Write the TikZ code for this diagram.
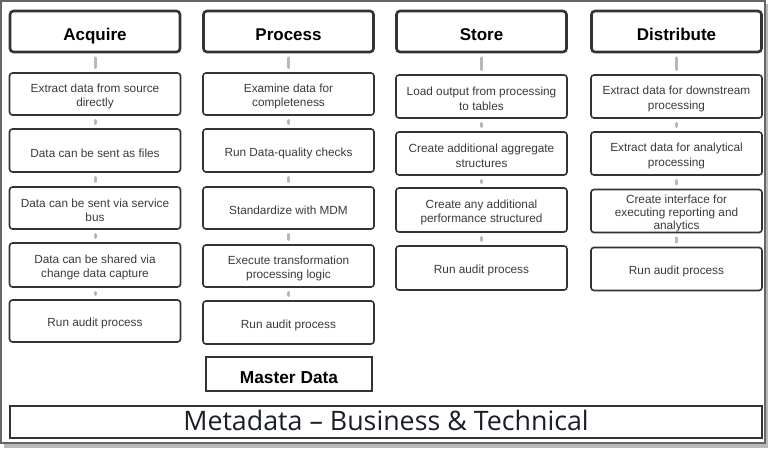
\documentclass[tikz,border=0pt]{standalone}
\usepackage{fontspec}
\setmainfont{Liberation Sans}
\newfontfamily\opensans{Open Sans}
\definecolor{boxline}{HTML}{333333}
\definecolor{boxtext}{HTML}{3A3A3A}
\definecolor{conncol}{HTML}{B8B8B8}
\definecolor{metatext}{HTML}{1A1E28}
\newcommand\stepnode[5][14.5]{%
  \node[stepbox,minimum height=#4] (#2) at (#3) {};
  \node[steptext,font=\fontsize{11.8}{#1}\selectfont] (#2t) at ([yshift=-2.5pt]#2.center) {#5};}
\begin{document}
\begin{tikzpicture}[x=1pt,y=-1pt,
  header/.style={draw=boxline,line width=2.6pt,rounded corners=3.5pt,minimum width=170pt,minimum height=41pt,inner sep=0pt,text height=22.5pt,text depth=4pt,font=\fontsize{17}{20}\selectfont\bfseries,text=black},
  stepbox/.style={draw=boxline,line width=1.6pt,rounded corners=3pt,minimum width=171pt,inner sep=0pt},
  steptext/.style={inner sep=0pt,align=center,text=boxtext},
  plainbox/.style={draw=boxline,line width=1.8pt,inner sep=0pt},
  conn/.style={draw=conncol,line width=3pt,line cap=round,shorten >=4.5pt,shorten <=4.5pt}
]
\useasboundingbox (0,0) rectangle (768,448);
% outer frame with shadow
\fill[gray!55] (4,443) rectangle (768,448);
\fill[gray!55] (765.5,4) rectangle (768,448);
\draw[gray!80!black,line width=1.4pt] (1,1) rectangle (765,443);

% Acquire
\node[header] (ah) at (95,31.5) {Acquire};
\stepnode{a1}{95,94}{42pt}{Extract data from source\\directly}
\stepnode{a2}{95,150.5}{43pt}{Data can be sent as files}
\stepnode{a3}{95,208}{42pt}{Data can be sent via service\\bus}
\stepnode{a4}{95,265}{44pt}{Data can be shared via\\change data capture}
\stepnode{a5}{95,321}{42pt}{Run audit process}
% Process
\node[header] (ph) at (288.5,31.5) {Process};
\stepnode{p1}{288.5,94}{42pt}{Examine data for\\completeness}
\stepnode{p2}{288.5,150.5}{43pt}{Run Data-quality checks}
\stepnode{p3}{288.5,208}{42pt}{Standardize with MDM}
\stepnode{p4}{288.5,266}{42pt}{Execute transformation\\processing logic}
\stepnode{p5}{288.5,322.5}{43pt}{Run audit process}
% Store
\node[header] (sh) at (481.5,31.5) {Store};
\stepnode{s1}{481.5,96.5}{43pt}{Load output from processing\\to tables}
\stepnode{s2}{481.5,153.5}{43pt}{Create additional aggregate\\structures}
\stepnode{s3}{481.5,210}{44pt}{Create any additional\\performance structured}
\stepnode{s4}{481.5,268}{44pt}{Run audit process}
% Distribute
\node[header] (dh) at (676.5,31.5) {Distribute};
\stepnode{d1}{676.5,96.5}{43pt}{Extract data for downstream\\processing}
\stepnode{d2}{676.5,153.5}{43pt}{Extract data for analytical\\processing}
\stepnode[13]{d3}{676.5,211}{43pt}{Create interface for\\executing reporting and\\analytics}
\stepnode{d4}{676.5,269}{43pt}{Run audit process}

% connectors
\foreach \c in {a,p}{
  \draw[conn] (\c h.south) -- (\c 1.north);
  \draw[conn] (\c 1.south) -- (\c 2.north);
  \draw[conn] (\c 2.south) -- (\c 3.north);
  \draw[conn] (\c 3.south) -- (\c 4.north);
  \draw[conn] (\c 4.south) -- (\c 5.north);
}
\foreach \c in {s,d}{
  \draw[conn] (\c h.south) -- (\c 1.north);
  \draw[conn] (\c 1.south) -- (\c 2.north);
  \draw[conn] (\c 2.south) -- (\c 3.north);
  \draw[conn] (\c 3.south) -- (\c 4.north);
}

% Master data
\node[plainbox,minimum width=166pt,minimum height=34pt,text height=22.6pt,text depth=4pt,font=\fontsize{17.3}{20}\selectfont\bfseries,text=black] (md) at (289,374) {Master Data};
% Metadata
\node[plainbox,minimum width=752pt,minimum height=32pt,text height=22pt,text depth=6pt,font=\opensans\fontsize{26.8}{30}\selectfont,text=metatext] (meta) at (386,422) {Metadata – Business \& Technical};
\end{tikzpicture}
\end{document}
